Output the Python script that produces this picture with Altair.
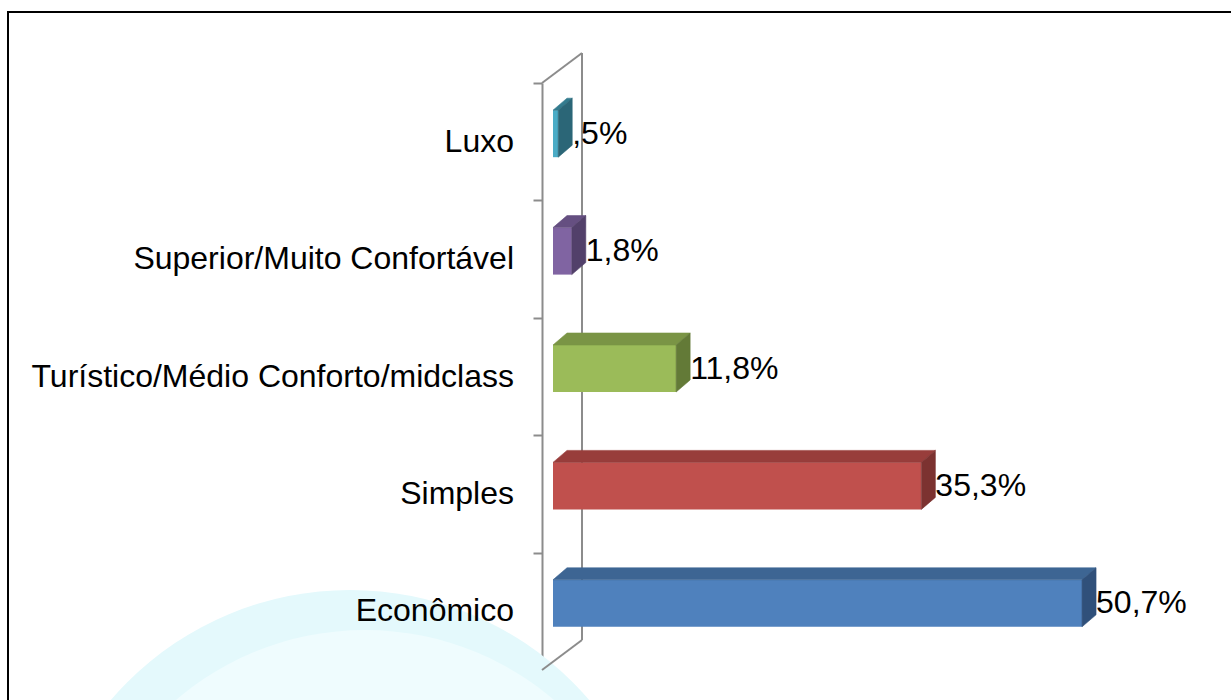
import altair as alt
import pandas as pd

# ---- data -------------------------------------------------------------
categories = [
    "Econômico",
    "Simples",
    "Turístico/Médio Conforto/midclass",
    "Superior/Muito Confortável",
    "Luxo",
]
shares = [50.7, 35.3, 11.8, 1.8, 0.5]
share_labels = ["50,7%", "35,3%", "11,8%", "1,8%", ",5%"]

front_colors = ["#4F81BD", "#C0504D", "#9BBB59", "#8064A2", "#4BACC6"]
top_colors = ["#3D6593", "#983D3B", "#7A9445", "#654F81", "#337B8E"]
side_colors = ["#30507A", "#7C3230", "#637A37", "#52406A", "#2B6677"]

# ---- layout (pixels) --------------------------------------------------
W, H = 600, 587
XMAX = 57.5
N = len(categories)
PX_X = W / XMAX          # pixels per percentage point
PX_Y = H / N             # pixels per category band

SHIFT_X, SHIFT_Y = 11, 8     # bar front face offset from the axis plane
BAR_H = 47                   # bar thickness
DEPTH_X, DEPTH_Y = 14, 12    # bar depth (oblique projection)
WALL_X, WALL_Y = 40, 30      # side wall depth

sx, sy = SHIFT_X / PX_X, SHIFT_Y / PX_Y
dxv, dyv = DEPTH_X / PX_X, DEPTH_Y / PX_Y
hh = BAR_H / 2 / PX_Y
wx, wy = WALL_X / PX_X, WALL_Y / PX_Y

xs = alt.Scale(domain=[0, XMAX], nice=False, zero=False)
ys = alt.Scale(domain=[0, N], nice=False, zero=False)

front_rows, label_rows, faces = [], [], []
for i, (cat, v, lab) in enumerate(zip(categories, shares, share_labels)):
    x0, x1 = sx, v + sx
    yc = i + 0.5 + sy
    y0, y1 = yc - hh, yc + hh
    front_rows.append(dict(cat=cat, x=x0, x2=x1, y=y0, y2=y1, fill=front_colors[i]))
    # top face (parallelogram receding up-right from the front top edge)
    top = [(x0, y1), (x1, y1), (x1 + dxv, y1 + dyv), (x0 + dxv, y1 + dyv)]
    # right face (parallelogram receding from the front right edge)
    side = [(x1, y0), (x1 + dxv, y0 + dyv), (x1 + dxv, y1 + dyv), (x1, y1)]
    for color, poly in ((top_colors[i], top), (side_colors[i], side)):
        faces.append((color, pd.DataFrame(
            [dict(k=k, x=px, y=py) for k, (px, py) in enumerate(poly)]
        )))
    label_rows.append(dict(cat=cat, band=i + 0.5, x=x1 + dxv, y=yc, label=lab))

front_df = pd.DataFrame(front_rows)
label_df = pd.DataFrame(label_rows)

wall_df = pd.DataFrame([
    dict(x=wx, x2=wx, y=wy, y2=N + wy),      # back edge
    dict(x=0, x2=wx, y=N, y2=N + wy),        # top diagonal
    dict(x=0, x2=wx, y=0, y2=wy),            # bottom diagonal
])

GREY = "#8C8C8C"
FONT = "Liberation Sans"
FS = 32

one = pd.DataFrame({"k": [0]})

# faint globe watermark behind the plot
globe_outer = alt.Chart(one).mark_arc(
    radius=315, theta=0, theta2=6.2832, color="#E4F9FC"
).encode(x=alt.value(350 - 542), y=alt.value(905 - 83))
globe_inner = alt.Chart(one).mark_arc(
    radius=290, theta=0, theta2=6.2832, color="#EFFCFE"
).encode(x=alt.value(365 - 542), y=alt.value(920 - 83))

# front axis line with category separators
axis_layer = alt.Chart(front_df).mark_rule(opacity=0).encode(
    x=alt.X("x:Q", scale=xs, axis=None),
    y=alt.Y(
        "y:Q", scale=ys,
        axis=alt.Axis(
            values=list(range(N + 1)), labels=False, title=None, grid=False,
            tickSize=9, tickColor=GREY, tickWidth=2,
            domainColor=GREY, domainWidth=2,
        ),
    ),
)

wall = alt.Chart(wall_df).mark_rule(color=GREY, strokeWidth=2).encode(
    x=alt.X("x:Q", scale=xs), x2="x2:Q",
    y=alt.Y("y:Q", scale=ys), y2="y2:Q",
)

fronts = alt.Chart(front_df).mark_rect().encode(
    x=alt.X("x:Q", scale=xs), x2="x2:Q",
    y=alt.Y("y:Q", scale=ys), y2="y2:Q",
    color=alt.Color("fill:N", scale=None),
)


def face(color, df):
    return alt.Chart(df).mark_line(
        interpolate="linear-closed", filled=True, fill=color,
        stroke=color, strokeWidth=0.6, opacity=1,
    ).encode(
        x=alt.X("x:Q", scale=xs),
        y=alt.Y("y:Q", scale=ys),
        order="k:Q",
    )


face_layers = [face(c, d) for c, d in faces]

values_text = alt.Chart(label_df).mark_text(
    align="left", baseline="middle", dx=0, font=FONT, fontSize=FS, color="black"
).encode(
    x=alt.X("x:Q", scale=xs), y=alt.Y("y:Q", scale=ys), text="label:N"
)

cat_text = alt.Chart(label_df).mark_text(
    align="right", baseline="middle", dx=-28, font=FONT, fontSize=FS, color="black"
).encode(
    x=alt.value(0), y=alt.Y("band:Q", scale=ys), text="cat:N"
)

frame = alt.Chart(one).mark_rect(
    fillOpacity=0, stroke="black", strokeWidth=2
).encode(
    x=alt.value(8 - 542), x2=alt.value(1260 - 542),
    y=alt.value(12 - 83), y2=alt.value(730 - 83),
)

chart = alt.layer(
    globe_outer, globe_inner, axis_layer, wall, fronts, *face_layers,
    values_text, cat_text, frame
).properties(
    width=W, height=H,
    padding={"left": 542, "top": 83, "right": 1231 - 542 - W, "bottom": 700 - 83 - H},
    autosize="none",
    background="white",
).configure_view(stroke=None)

chart.save("out.html", embed_options={"renderer": "svg", "actions": False})
